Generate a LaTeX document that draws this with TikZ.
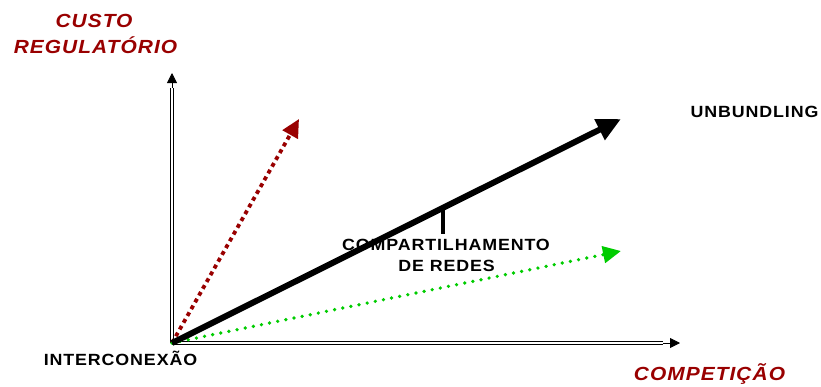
\documentclass[tikz,border=0pt]{standalone}
\usepackage{fontspec}
\usetikzlibrary{arrows.meta}
\newfontfamily\labfont{Liberation Sans}[FakeStretch=1.1,LetterSpace=5.5]
\definecolor{dred}{RGB}{153,0,0}
\definecolor{dgreen}{RGB}{0,204,0}
\begin{document}
\begin{tikzpicture}[x=1pt,y=-1pt,
  lab/.style={font=\labfont\fontsize{16.2}{19}\selectfont\bfseries, inner sep=0pt, anchor=base},
  redlab/.style={font=\labfont\fontsize{19}{22}\selectfont\bfseries\itshape, text=dred, inner sep=0pt, anchor=base},
  axisline/.style={draw=black, line width=1.2pt, double=white, double distance=2.2pt},
  axtip/.style={line width=0.8pt, -{Triangle[length=10pt,width=10pt]}},
  mainarrow/.style={line width=6pt, -{Triangle[length=24pt,width=22pt]}},
  redarrow/.style={dred, line width=3.8pt, dash pattern=on 4pt off 3.8pt, -{Triangle[length=18pt,width=17pt]}},
  greenarrow/.style={dgreen, line width=3.7pt, line cap=round, dash pattern=on 0pt off 8.3pt, -{Triangle[length=18pt,width=16.5pt]}},
  tickline/.style={line width=3.8pt}]
\useasboundingbox (0,0) rectangle (821,386);
% coordinates
\coordinate (O) at (172,343);
\coordinate (yend) at (172,88);
\coordinate (ytip) at (172,73);
\coordinate (xend) at (663,343);
\coordinate (xtip) at (680,343);
\coordinate (redtip) at (299,119);
\coordinate (blacktip) at (621,119);
\coordinate (greentip) at (621,251);
\coordinate (tickstart) at (443,207);
\coordinate (tickend) at (443,234);
% axes
\draw[axisline] (O) -- (yend);
\draw[axtip] (yend) -- (ytip);
\draw[axisline] (O) -- (xend);
\draw[axtip] (xend) -- (xtip);
% arrows
\draw[redarrow] (O) -- (redtip);
\draw[greenarrow] (O) -- (greentip);
\draw[mainarrow] (O) -- (blacktip);
\draw[tickline] (tickstart) -- (tickend);
% labels
\node[redlab] (custo) at (94,27) {CUSTO};
\node[redlab] (regul) at (95.5,53) {REGULATÓRIO};
\node[redlab] (comp) at (709.5,380) {COMPETIÇÃO};
\node[lab] (unb) at (754.5,117) {UNBUNDLING};
\node[lab] (compart) at (446,250) {COMPARTILHAMENTO};
\node[lab] (redes) at (446.5,271) {DE REDES};
\node[lab] (inter) at (120.5,365) {INTERCONEXÃO};
\end{tikzpicture}
\end{document}
